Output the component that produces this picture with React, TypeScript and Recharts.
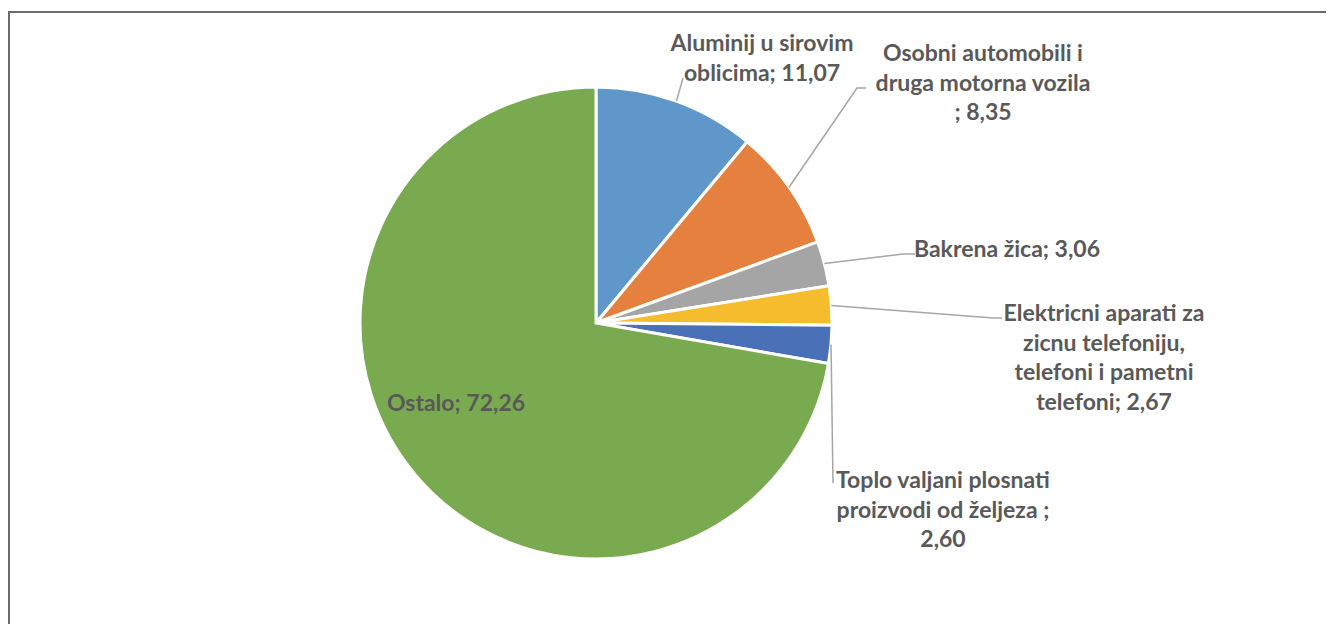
import React from 'react'
import { PieChart, Pie, Cell } from 'recharts'

// share of exports, %
const names = [
  'Aluminij u sirovim oblicima',
  'Osobni automobili i druga motorna vozila ',
  'Bakrena žica',
  'Elektricni aparati za zicnu telefoniju, telefoni i pametni telefoni',
  'Toplo valjani plosnati proizvodi od željeza ',
  'Ostalo'
]
const values = [11.07, 8.35, 3.06, 2.67, 2.6, 72.26]
const labelLines = [
  ['Aluminij u sirovim', 'oblicima; 11,07'],
  ['Osobni automobili i', 'druga motorna vozila', '; 8,35'],
  ['Bakrena žica; 3,06'],
  ['Elektricni aparati za', 'zicnu telefoniju,', 'telefoni i pametni', 'telefoni; 2,67'],
  ['Toplo valjani plosnati', 'proizvodi od željeza ;', '2,60'],
  ['Ostalo; 72,26']
]

const colors = ['#6097CA', '#E6803F', '#A5A5A5', '#F5BD2E', '#4A70B8', '#7AAA4F']

// label placement relative to pie centre: text centre x, first line y, leader elbow/end
const layout = [
  { tx: 166, ty: -281, elbow: [87, -245], end: [87, -245] },
  { tx: 387, ty: -271, elbow: [261, -235], end: [270, -235] },
  { tx: 411, ty: -75, elbow: [307, -69], end: [319, -69] },
  { tx: 508, ty: -11, elbow: [397, -5], end: [406, -5] },
  { tx: 347, ty: 156, elbow: [237, 160], end: [237, 160] },
  { tx: -140, ty: 79, elbow: null, end: null }
]

const data = names.map((name, i) => ({ name, value: values[i] }))

const RAD = Math.PI / 180
const LINE_H = 29.5

const renderLabel = (props: any) => {
  const { cx, cy, midAngle, outerRadius, index } = props
  const l = layout[index]
  const sx = cx + outerRadius * Math.cos(-midAngle * RAD)
  const sy = cy + outerRadius * Math.sin(-midAngle * RAD)
  return (
    <g key={`lbl-${index}`}>
      {l.elbow && l.end && (
        <polyline
          points={`${sx},${sy} ${cx + l.elbow[0]},${cy + l.elbow[1]} ${cx + l.end[0]},${cy + l.end[1]}`}
          fill="none"
          stroke="#A6A6A6"
          strokeWidth={1.5}
        />
      )}
      <text
        x={cx + l.tx}
        y={cy + l.ty}
        textAnchor="middle"
        dominantBaseline="central"
        fill="#595959"
        fontSize={23}
        fontWeight="bold"
        fontFamily="Lato, 'Open Sans', sans-serif"
      >
        {labelLines[index].map((line, j) => (
          <tspan key={j} x={cx + l.tx} y={cy + l.ty + j * LINE_H}>
            {line}
          </tspan>
        ))}
      </text>
    </g>
  )
}

const App = () => {
  return (
    <div style={{ width: 1326, height: 616, position: 'relative', overflow: 'hidden' }}>
      <div
        style={{
          position: 'absolute',
          left: 0,
          top: 3,
          width: 1400,
          height: 700,
          borderTop: '2px solid #6b6b6b',
          borderLeft: '2px solid #6b6b6b'
        }}
      />
      <div style={{ position: 'absolute', left: 0, top: 0 }}>
        <PieChart width={1326} height={616} margin={{ top: 0, right: 0, bottom: 0, left: 0 }}>
          <Pie
            data={data}
            dataKey="value"
            nameKey="name"
            cx={588}
            cy={315}
            outerRadius={236}
            startAngle={90}
            endAngle={-270}
            stroke="#ffffff"
            strokeWidth={3}
            label={renderLabel}
            labelLine={false}
            isAnimationActive={false}
          >
            {data.map((d, i) => (
              <Cell key={d.name} fill={colors[i]} />
            ))}
          </Pie>
        </PieChart>
      </div>
    </div>
  )
}

export default App
